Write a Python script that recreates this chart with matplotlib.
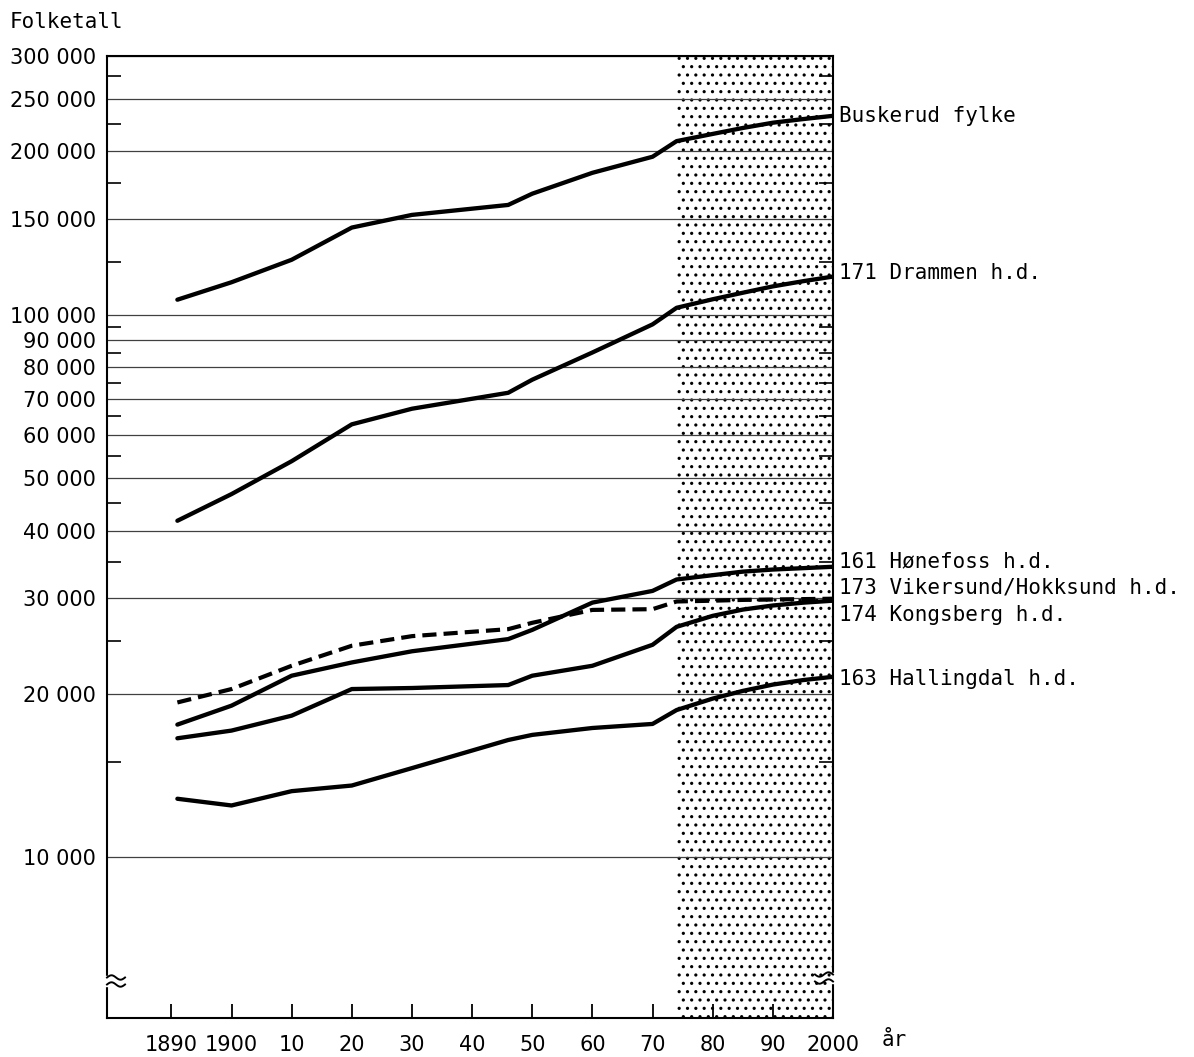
"""Folketall i Buskerud fylke og handelsdistrikter 1891-2000 (log-skala)."""

import matplotlib as mpl

mpl.use("Agg")
import matplotlib.pyplot as plt
import numpy as np
from matplotlib.ticker import FixedLocator, NullFormatter

years = [1891, 1900, 1910, 1920, 1930, 1946, 1950, 1960, 1970,
         1974, 1980, 1985, 1990, 1995, 2000]

buskerud = [106600, 114800, 126300, 144800, 152800, 159400, 167200, 182700,
            195600, 209000, 215500, 221000, 226000, 229500, 232700]
drammen = [41700, 46700, 53700, 62800, 67100, 71800, 75900, 85200, 96000,
           103000, 106800, 109800, 112800, 115300, 117600]
honefoss = [17550, 19020, 21600, 22850, 23960, 25230, 26240, 29460, 30960,
            32500, 33100, 33600, 33900, 34100, 34300]
vikersund = [19280, 20410, 22530, 24530, 25550, 26320, 27040, 28560, 28650,
             29600, 29700, 29800, 29850, 29900, 29950]
kongsberg = [16560, 17110, 18230, 20410, 20500, 20760, 21600, 22530, 24630,
             26580, 27850, 28600, 29100, 29450, 29700]
hallingdal = [12810, 12450, 13230, 13550, 14590, 16440, 16800, 17300, 17600,
              18670, 19600, 20250, 20800, 21200, 21500]

series_names = ["Buskerud fylke", "171 Drammen h.d.", "161 Hønefoss h.d.",
                "173 Vikersund/Hokksund h.d.", "174 Kongsberg h.d.",
                "163 Hallingdal h.d."]

grid_vals = [10000, 20000, 30000, 40000, 50000, 60000, 70000, 80000, 90000,
             100000, 150000, 200000, 250000, 300000]
grid_labels = ["10 000", "20 000", "30 000", "40 000", "50 000", "60 000",
               "70 000", "80 000", "90 000", "100 000", "150 000", "200 000",
               "250 000", "300 000"]
minor_vals = [15000, 25000, 35000, 45000, 55000, 65000, 75000, 85000, 95000,
              125000, 175000, 225000, 275000]

x_ticks = list(range(1890, 2001, 10))
x_labels = ["1890", "1900", "10", "20", "30", "40", "50", "60", "70", "80",
            "90", "2000"]

prognosis_start = 1974

# label offsets from line end, in pixels (up positive)
label_dy = [0, 4, 5, 11, -14, -2]

plt.rcParams["hatch.linewidth"] = 1.1
mono = "DejaVu Sans Mono"
sans = "DejaVu Sans"

fig = plt.figure(figsize=(11.94, 10.57), dpi=100)
ax_l, ax_b, ax_w, ax_h = 107 / 1194, 39 / 1057, 726 / 1194, 962 / 1057
ax = fig.add_axes([ax_l, ax_b, ax_w, ax_h])

ax.set_yscale("log")
ax.set_xlim(1879.3, 2000)
ax.set_ylim(5050, 300000)

ax.axvspan(prognosis_start, 2000, facecolor="white", edgecolor="black",
           hatch="..", lw=0, zorder=1)

for v in grid_vals:
    ax.axhline(v, color="0.25", lw=0.9, zorder=1.5)

data = [buskerud, drammen, honefoss, vikersund, kongsberg, hallingdal]
for name, vals, dy in zip(series_names, data, label_dy):
    if name.startswith("173"):
        ax.plot(years, vals, color="black", lw=3.0, ls=(0, (3.4, 1.7)),
                dash_capstyle="butt", zorder=3)
    else:
        ax.plot(years, vals, color="black", lw=3.1, solid_joinstyle="round",
                solid_capstyle="round", zorder=3)
    ax.annotate(name, xy=(2000, vals[-1]), xytext=(4, dy * 0.72),
                textcoords="offset points", ha="left", va="center",
                fontsize=15, family=mono, annotation_clip=False)

ax.yaxis.set_major_locator(FixedLocator(grid_vals))
ax.set_yticklabels(grid_labels, family=sans)
ax.yaxis.set_minor_locator(FixedLocator(minor_vals))
ax.yaxis.set_minor_formatter(NullFormatter())
ax.tick_params(axis="y", which="major", length=0, pad=8, labelsize=15)
ax.tick_params(axis="y", which="minor", direction="in", length=10, width=1.2,
               left=True, right=True)

ax.set_xticks(x_ticks)
ax.set_xticklabels(x_labels, family=sans)
ax.tick_params(axis="x", which="major", direction="in", length=10, width=1.3,
               pad=12, labelsize=15)

for sp in ax.spines.values():
    sp.set_linewidth(1.5)

# broken-axis squiggles near the bottom
px_x = 1 / (ax_w * 1194)
px_y = 1 / (ax_h * 1057)
t = np.linspace(0, 1, 40)
for x0, sgn, yc in [(0.0, 1, 37), (1.0, -1, 40)]:
    ax.fill_between([x0 - 2 * px_x, x0 + 2 * px_x], (yc - 5) * px_y,
                    (yc + 5) * px_y, color="white", transform=ax.transAxes,
                    zorder=4, clip_on=False)
    for off in (-3.5, 3.5):
        xs = x0 + sgn * t * 18 * px_x
        ys = (yc + off + 2.2 * np.sin(2 * np.pi * t)) * px_y
        ax.plot(xs, ys, color="black", lw=1.4, transform=ax.transAxes,
                zorder=5, clip_on=False)

fig.text(10 / 1194, 1 - 22 / 1057, "Folketall", fontsize=15, family=mono,
         ha="left", va="center")
fig.text(894 / 1194, 1 - 1040 / 1057, "år", fontsize=15, family=mono,
         ha="center", va="center")

fig.savefig("out.png", dpi=100)
